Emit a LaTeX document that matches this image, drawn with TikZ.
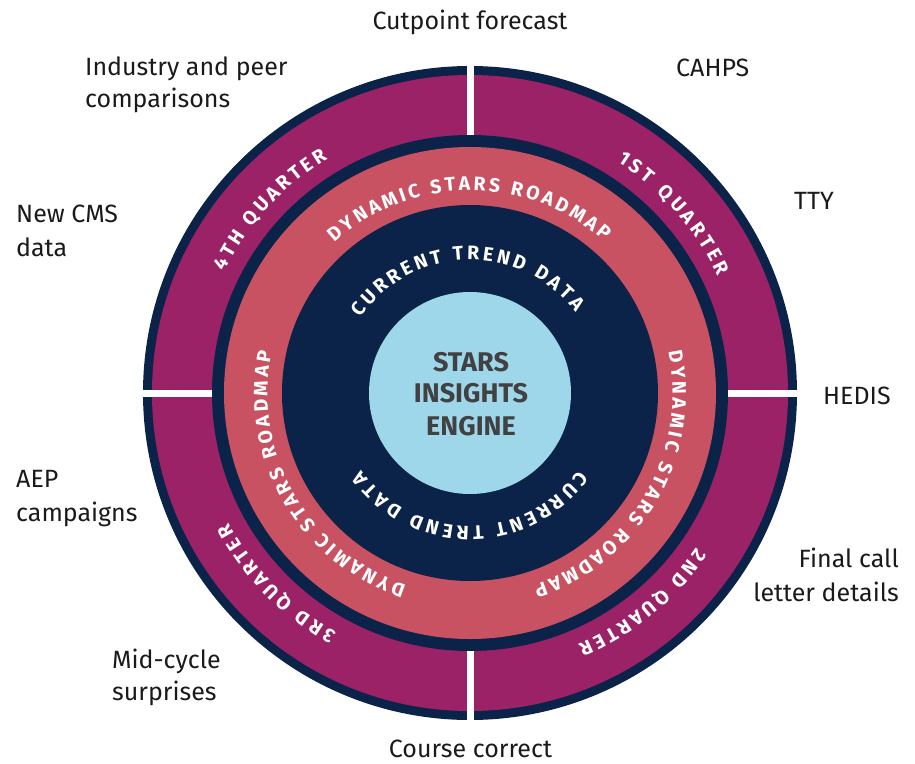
\documentclass[tikz,border=0pt]{standalone}
\usepackage{fontspec}
\setmainfont{Fira Sans}
\usetikzlibrary{decorations.text}
\definecolor{navy}{HTML}{0B2349}
\definecolor{plum}{HTML}{9B2266}
\definecolor{coral}{HTML}{C85262}
\definecolor{sky}{HTML}{9ED7EA}
\definecolor{engine}{HTML}{414042}
\definecolor{ink}{HTML}{1A1A1A}
\newcommand\arcfont{\fontsize{19.5}{19.5}\selectfont\bfseries\color{white}}
\newcommand\ringtext[4]{%
  \path[decorate, decoration={text along path, text={|\arcfont|#4}, text align={fit to path}}]
    (#2:#1) arc[start angle=#2, end angle=#3, radius=#1];}
\tikzset{
  lbl/.style={font=\fontsize{25}{25}\selectfont, text=ink, inner sep=0pt},
  ctr/.style={font=\fontsize{27}{27}\selectfont\bfseries, text=engine, inner sep=0pt},
  gap/.style={draw=white, line width=7pt}
}
\begin{document}
\begin{tikzpicture}[x=1pt,y=1pt]
\useasboundingbox (-470,-370) rectangle (445,393);
% rings
\fill[navy] (0,0) circle[radius=327pt];
\fill[plum] (0,0) circle[radius=318pt];
\fill[navy] (0,0) circle[radius=258pt];
\fill[coral] (0,0) circle[radius=246pt];
\fill[navy] (0,0) circle[radius=188pt];
\fill[sky] (0,0) circle[radius=101pt];
% quarter separators
\draw[gap] (90:258pt) -- (90:335pt);
\draw[gap] (270:258pt) -- (270:335pt);
\draw[gap] (0:258pt) -- (0:335pt);
\draw[gap] (180:258pt) -- (180:335pt);
% curved texts
\ringtext{133pt}{145.5}{37.5}{CURRENT TREND DATA}
\ringtext{133pt}{-35.5}{-144.5}{CURRENT TREND DATA}
\ringtext{202.5pt}{132}{48.6}{DYNAMIC STARS ROADMAP}
\ringtext{202.5pt}{11.7}{-71.7}{DYNAMIC STARS ROADMAP}
\ringtext{202.5pt}{251.7}{168.3}{DYNAMIC STARS ROADMAP}
\ringtext{274pt}{153.7}{121.3}{4TH QUARTER}
\ringtext{274pt}{57.5}{25.1}{1ST QUARTER}
\ringtext{274pt}{-34.4}{-66.8}{2ND QUARTER}
\ringtext{274pt}{240.8}{208.4}{3RD QUARTER}
% center
\node[ctr, anchor=base] (c1) at (1,22) {STARS};
\node[ctr, anchor=base] (c2) at (1,-9) {INSIGHTS};
\node[ctr, anchor=base] (c3) at (1,-42) {ENGINE};
% labels
\node[lbl, anchor=base] (cut) at (0,363) {Cutpoint forecast};
\node[lbl, anchor=base west] (ind1) at (-385,317) {Industry and peer};
\node[lbl, anchor=base west] (ind2) at (-385,285) {comparisons};
\node[lbl, anchor=base west] (cms1) at (-454,170) {New CMS};
\node[lbl, anchor=base west] (cms2) at (-454,136) {data};
\node[lbl, anchor=base west] (cahps) at (206,316) {CAHPS};
\node[lbl, anchor=base west] (tty) at (324,183) {TTY};
\node[lbl, anchor=base west] (hedis) at (353,-11) {HEDIS};
\node[lbl, anchor=base west] (aep1) at (-454,-94) {AEP};
\node[lbl, anchor=base west] (aep2) at (-454,-128) {campaigns};
\node[lbl, anchor=base west] (mid1) at (-358,-275) {Mid-cycle};
\node[lbl, anchor=base west] (mid2) at (-358,-307) {surprises};
\node[lbl, anchor=base east] (fin1) at (429,-174) {Final call};
\node[lbl, anchor=base east] (fin2) at (429,-208) {letter details};
\node[lbl, anchor=base] (course) at (0.5,-364) {Course correct};
\end{tikzpicture}
\end{document}
